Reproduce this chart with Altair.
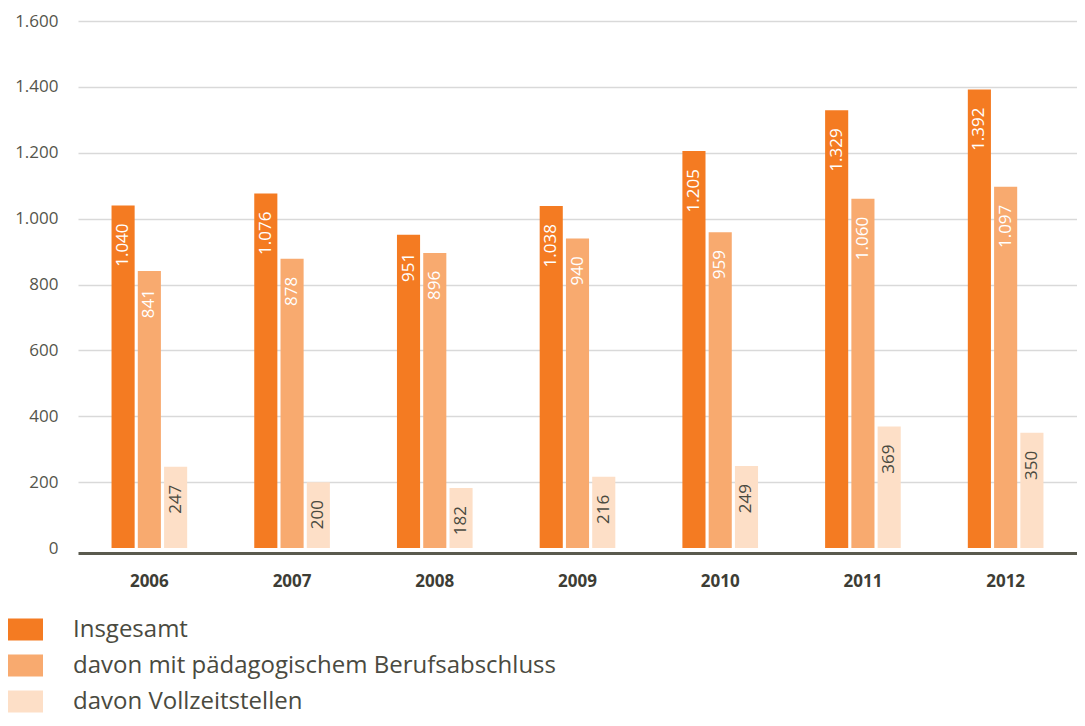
import altair as alt
import pandas as pd

years = ["2006", "2007", "2008", "2009", "2010", "2011", "2012"]
series = ["Insgesamt", "davon mit pädagogischem Berufsabschluss", "davon Vollzeitstellen"]
insgesamt = [1040, 1076, 951, 1038, 1205, 1329, 1392]
paedagogisch = [841, 878, 896, 940, 959, 1060, 1097]
vollzeit = [247, 200, 182, 216, 249, 369, 350]
colors = ["#F47B22", "#F8AA6F", "#FDDFC7"]
y_ticks = [0, 200, 400, 600, 800, 1000, 1200, 1400, 1600]

rows = []
for vals, s in zip([insgesamt, paedagogisch, vollzeit], series):
    for y, v in zip(years, vals):
        rows.append({"Jahr": y, "Reihe": s, "Wert": v})
df = pd.DataFrame(rows)

FONT = "Open Sans"
W, H = 999, 527

x = alt.X("Jahr:N", sort=years,
          scale=alt.Scale(paddingInner=0.47, paddingOuter=0.235),
          axis=alt.Axis(title=None, labelAngle=0, labelFont=FONT, labelFontSize=17,
                        labelFontWeight="bold", labelColor="#3d3d35", labelPadding=20,
                        ticks=False, domainColor="#5a5a4e", domainWidth=3, offset=5))
xo = alt.XOffset("Reihe:N", sort=series, scale=alt.Scale(paddingInner=0.12))
y = alt.Y("Wert:Q", scale=alt.Scale(domain=[0, 1600], nice=False),
          axis=alt.Axis(title=None, values=y_ticks, labelFont=FONT, labelFontSize=17,
                        labelColor="#55554c", labelPadding=20, ticks=False, domain=False,
                        gridColor="#d9d9d9", gridWidth=1.5,
                        gridOpacity=alt.condition("datum.value == 0", alt.value(0), alt.value(1)),
                        labelExpr="replace(format(datum.value, ','), ',', '.')"))

base = alt.Chart(df).encode(x=x, xOffset=xo, y=y)

bars = base.mark_bar().encode(
    color=alt.Color("Reihe:N", sort=series,
                    scale=alt.Scale(domain=series, range=colors),
                    legend=alt.Legend(title=None, orient="none", legendX=-70, legendY=591,
                                      direction="vertical", padding=0,
                                      symbolType="M-1,-0.63H1V0.63H-1Z", symbolSize=1225,
                                      symbolStrokeWidth=0, symbolOpacity=1,
                                      labelFont=FONT, labelFontSize=24, labelColor="#4a4a40",
                                      labelOffset=30, rowPadding=6, labelLimit=800))
)

labels = base.transform_calculate(
    txt="replace(format(datum.Wert, ','), ',', '.')"
).mark_text(angle=270, align="right", baseline="middle", dx=-18,
            font=FONT, fontSize=17).encode(
    text="txt:N",
    color=alt.Color("Reihe:N", sort=series,
                    scale=alt.Scale(domain=series, range=["#ffffff", "#ffffff", "#4a4a40"]),
                    legend=None)
)

chart = alt.layer(bars, labels).resolve_scale(color="independent").properties(
    width=W, height=H,
    padding={"left": 70, "top": 13, "right": 0, "bottom": 170},
    autosize=alt.AutoSizeParams(type="none"),
).configure_view(stroke=None)

chart.save("out.html", embed_options={"renderer": "svg", "actions": False})
